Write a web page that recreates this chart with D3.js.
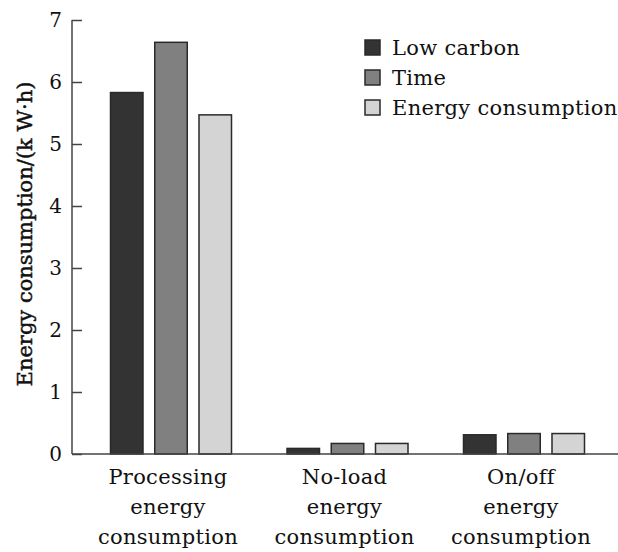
<!DOCTYPE html>
<html>
<head>
<meta charset="utf-8">
<script src="https://cdn.jsdelivr.net/npm/d3@7"></script>
<style>
  html, body { margin: 0; padding: 0; background: #fff; }
</style>
</head>
<body>
<svg id="chart" width="618" height="552"></svg>
<script>
// Energy use by category for three scheduling objectives
const categories = [
  ["Processing", "energy", "consumption"],
  ["No-load", "energy", "consumption"],
  ["On/off", "energy", "consumption"]
];
const seriesNames = ["Low carbon", "Time", "Energy consumption"];
const lowCarbon = [5.83, 0.09, 0.31];
const timeObj = [6.64, 0.17, 0.33];
const energyObj = [5.47, 0.17, 0.33];
const yTicks = [0, 1, 2, 3, 4, 5, 6, 7];
const yTitle = "Energy consumption/(k W\u00b7h)";

const seriesValues = [lowCarbon, timeObj, energyObj];
const fills = ["#333333", "#808080", "#d4d4d4"];
const serif = "DejaVu Serif";

const svg = d3.select("#chart");
const axisX = 72, baseY = 454, topY = 20, rightX = 618;

const y = d3.scaleLinear().domain([0, 7]).range([baseY, topY]);
const groupKeys = categories.map((c, i) => i);
const x0 = d3.scaleBand().domain(groupKeys).range([82.75, 612.25]).padding(0);
const groupWidth = 121;
const x1 = d3.scaleBand().domain(d3.range(seriesNames.length))
  .range([0, groupWidth]).paddingInner(0.2655).paddingOuter(0);

// bars
const groups = svg.append("g").selectAll("g").data(groupKeys).join("g")
  .attr("transform", d => `translate(${x0(d) + x0.bandwidth() / 2 - groupWidth / 2},0)`);
groups.selectAll("rect")
  .data(g => seriesValues.map((vals, s) => ({ s, v: vals[g] })))
  .join("rect")
  .attr("x", d => x1(d.s))
  .attr("width", x1.bandwidth())
  .attr("y", d => y(d.v))
  .attr("height", d => y(0) - y(d.v))
  .attr("fill", d => fills[d.s])
  .attr("stroke", "#2a2a2a")
  .attr("stroke-width", 1.5);

// y axis with inward ticks
const yAxis = d3.axisLeft(y).tickValues(yTicks).tickFormat(d3.format("d"))
  .tickSizeInner(-10).tickSizeOuter(0).tickPadding(10);
const gy = svg.append("g").attr("transform", `translate(${axisX},0)`).call(yAxis);
gy.select(".domain").remove();
gy.selectAll(".tick line").attr("stroke", "#444").attr("stroke-width", 1.5);
gy.selectAll(".tick text")
  .style("font-family", serif)
  .attr("font-size", 20).attr("fill", "#111");
gy.append("line").attr("x1", 0).attr("x2", 0).attr("y1", topY).attr("y2", baseY)
  .attr("stroke", "#444").attr("stroke-width", 1.5);

// x baseline
svg.append("line").attr("x1", axisX).attr("x2", rightX).attr("y1", baseY).attr("y2", baseY)
  .attr("stroke", "#444").attr("stroke-width", 1.5);

// category labels
const catLabels = svg.append("g").selectAll("text").data(groupKeys).join("text")
  .attr("text-anchor", "middle")
  .style("font-family", serif)
  .attr("font-size", 21)
  .attr("letter-spacing", 0.3)
  .attr("fill", "#111");
catLabels.selectAll("tspan").data(g => categories[g].map((t, i) => ({ t, i, g })))
  .join("tspan")
  .attr("x", d => x0(d.g) + x0.bandwidth() / 2 - 3)
  .attr("y", d => 483.5 + d.i * 30)
  .text(d => d.t);

// y title
svg.append("text")
  .attr("transform", "translate(32,234) rotate(-90)")
  .attr("text-anchor", "middle")
  .style("font-family", serif)
  .attr("font-size", 21)
  .attr("stroke", "#111")
  .attr("stroke-width", 0.45)
  .attr("fill", "#111")
  .text(yTitle);

// legend
const legend = svg.append("g").selectAll("g").data(seriesNames).join("g")
  .attr("transform", (d, i) => `translate(365,${40 + i * 30})`);
legend.append("rect").attr("width", 15).attr("height", 15)
  .attr("fill", (d, i) => fills[i]).attr("stroke", "#2a2a2a").attr("stroke-width", 1.5);
legend.append("text").attr("x", 27).attr("y", 14.7)
  .style("font-family", serif)
  .attr("font-size", 21).attr("letter-spacing", 0.3).attr("fill", "#111")
  .text(d => d);
</script>
</body>
</html>
